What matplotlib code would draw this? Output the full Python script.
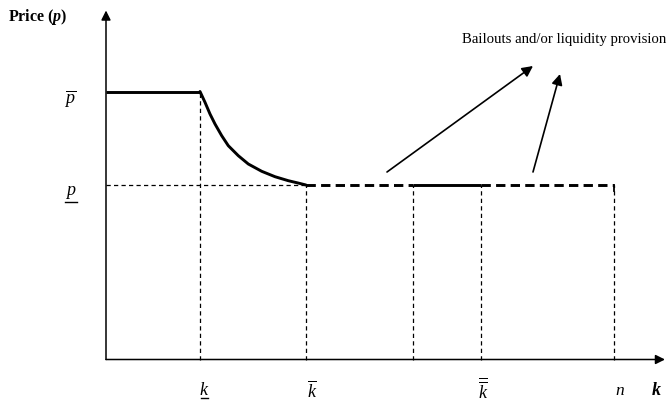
import matplotlib
matplotlib.use("Agg")
import matplotlib.pyplot as plt

plt.rcParams['font.family'] = ['Liberation Serif', 'DejaVu Serif']
plt.rcParams['mathtext.fontset'] = 'custom'
plt.rcParams['mathtext.rm'] = 'Liberation Serif'
plt.rcParams['mathtext.it'] = 'Liberation Serif:italic'
plt.rcParams['mathtext.bf'] = 'Liberation Serif:italic:bold'

# Key positions on the quantity axis (k) and price levels (p)
k_low = 0.94
k_bar = 2.00
k_mid = 3.07
k_dbar = 3.75
n_val = 5.08
p_high = 2.68
p_low = 1.745

# Declining price segment between k_low and k_bar
curve_k = [0.94, 0.99, 1.04, 1.09, 1.157, 1.223, 1.323, 1.423, 1.557, 1.69, 1.823, 1.92, 2.00]
curve_p = [2.68, 2.572, 2.455, 2.355, 2.238, 2.138, 2.038, 1.955, 1.882, 1.828, 1.788, 1.765, 1.745]

x_end = 5.59
y_end = 3.49

fig = plt.figure(figsize=(6.69, 4.02), dpi=100)
ax = fig.add_axes([0, 0, 1, 1])
ax.set_xlim(-1.06, 5.63)
ax.set_ylim(-0.415, 3.605)
ax.axis('off')

# Axes with arrows
ax.annotate('', xy=(x_end, 0), xytext=(0, 0),
            arrowprops=dict(arrowstyle='-|>', color='black', lw=1.1,
                            mutation_scale=14, shrinkA=0, shrinkB=0))
ax.annotate('', xy=(0, y_end), xytext=(0, 0),
            arrowprops=dict(arrowstyle='-|>', color='black', lw=1.1,
                            mutation_scale=14, shrinkA=0, shrinkB=0))

thick = 2.1
# Solid upper part and curve
ax.plot([0, k_low], [p_high, p_high], color='black', lw=thick, solid_capstyle='butt')
ax.plot(curve_k, curve_p, color='black', lw=thick, solid_joinstyle='round',
        solid_capstyle='round')
# Thick dashed / solid lower line
ax.plot([k_bar, k_mid], [p_low, p_low], color='black', lw=thick, dashes=(3.2, 1.8))
ax.plot([k_mid, k_dbar], [p_low, p_low], color='black', lw=thick, solid_capstyle='butt')
ax.plot([k_dbar, n_val], [p_low, p_low], color='black', lw=thick, dashes=(3.2, 1.8))
ax.plot([n_val, n_val], [p_low, p_low - 0.06], color='black', lw=1.3)

# Thin dashed guides
thin = dict(color='black', lw=0.9, dashes=(3.4, 2.6))
ax.plot([0, k_bar], [p_low, p_low], **thin)
ax.plot([k_low, k_low], [0, p_high], **thin)
for kv in [k_bar, k_mid, k_dbar, n_val]:
    ax.plot([kv, kv], [0, p_low], **thin)

# Arrows for bailouts
arr = dict(arrowstyle='-|>', color='black', lw=1.2, mutation_scale=16,
           shrinkA=0, shrinkB=0)
ax.annotate('', xy=(4.27, 2.935), xytext=(2.81, 1.875), arrowprops=arr)
ax.annotate('', xy=(4.54, 2.855), xytext=(4.27, 1.875), arrowprops=arr)

ax.text(3.557, 3.205, 'Bailouts and/or liquidity provision', fontsize=10.6,
        ha='left', va='center')

# Axis titles
ax.text(-0.98, 3.435, r'Price ($\mathbf{p}$)', fontsize=11.5,
        fontweight='bold', ha='left', va='center')
ax.text(5.50, -0.305, r'$\mathbf{k}$', fontsize=13, ha='center', va='center')

# Price labels
ax.text(-0.36, 2.615, r'$\overline{p}$', fontsize=13, ha='center', va='center')
ax.text(-0.35, 1.675, r'$p$', fontsize=13, ha='center', va='center')
ax.plot([-0.41, -0.293], [1.575, 1.575], color='black', lw=1.0)

# Quantity labels
ax.text(0.985, -0.305, r'$k$', fontsize=13, ha='center', va='center')
ax.plot([0.945, 1.023], [-0.388, -0.388], color='black', lw=1.0)
ax.text(2.057, -0.305, r'$\overline{k}$', fontsize=13, ha='center', va='center')
ax.text(3.77, -0.295, r'$\overline{\overline{k}}$', fontsize=13, ha='center', va='center')
ax.text(5.14, -0.305, r'$n$', fontsize=12.5, ha='center', va='center')

fig.savefig('out.png', dpi=100)
